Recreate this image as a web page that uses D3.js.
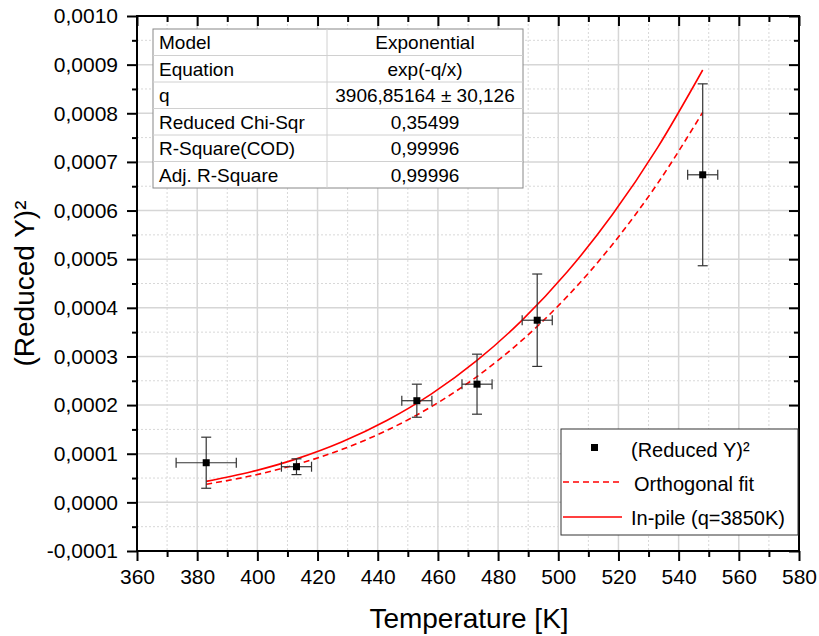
<!DOCTYPE html>
<html lang="en">
  <head>
    <meta charset="UTF-8">
    <title>Reduced Y squared vs temperature</title>
    <style>
      body { margin: 0; background: #fff; }
      svg text { font-family: Arial, "Liberation Sans", sans-serif; fill: #000; }
    </style>
    <script src="https://d3js.org/d3.v7.min.js"></script>
  </head>
  <body>
    <script>
      // measured points
      var temps = [383, 413, 453, 473, 493, 548];
      var reducedY2 = [0.0000815, 0.0000733, 0.000209, 0.000243, 0.0003745, 0.0006735];
      var yErr = [0.0000525, 0.0000162, 0.000034, 0.0000617, 0.000095, 0.000187];
      var xErr = [10, 5, 5, 5, 5, 5];

      // curves
      var curveT = [383, 398, 413, 428, 443, 458, 473, 488, 503, 518, 533, 548];
      var orthoFit = [0.0000372, 0.0000546, 0.0000779, 0.0001086, 0.0001479, 0.0001974,
                      0.0002587, 0.0003335, 0.0004235, 0.0005302, 0.0006556, 0.000802];
      var inPile = [0.0000431, 0.0000629, 0.0000894, 0.000124, 0.0001682, 0.0002235,
                    0.0002918, 0.0003747, 0.0004741, 0.0005917, 0.0007294, 0.000889];

      var xTicks = d3.range(360, 581, 20);
      var yTicks = d3.range(-0.0001, 0.00100001, 0.0001);

      var tableRows = [
        ["Model", "Exponential"],
        ["Equation", "exp(-q/x)"],
        ["q", "3906,85164 \u00b1 30,126"],
        ["Reduced Chi-Sqr", "0,35499"],
        ["R-Square(COD)", "0,99996"],
        ["Adj. R-Square", "0,99996"]
      ];
      var legendLabels = ["(Reduced Y)\u00b2", "Orthogonal fit", "In-pile (q=3850K)"];

      (function () {
        var W = 819, H = 636;
        var pLeft = 137, pRight = 799, pTop = 16, pBottom = 551;

        var x = d3.scaleLinear().domain([360, 580]).range([pLeft, pRight]);
        var y = d3.scaleLinear().domain([-0.0001, 0.0010]).range([pBottom, pTop]);

        var fmtY = function (d) {
          var v = Math.abs(d) < 1e-12 ? 0 : d;
          return (v < 0 ? "-" : "") + Math.abs(v).toFixed(4).replace(".", ",");
        };

        var svg = d3.select("body").append("svg")
          .attr("width", W).attr("height", H);

        var minorX = d3.range(370, 580, 20);
        var minorY = d3.range(-0.00005, 0.00099, 0.0001);

        // grid
        var grid = svg.append("g");
        grid.selectAll(".mx").data(minorX).enter().append("line")
          .attr("x1", function (d) { return x(d); }).attr("x2", function (d) { return x(d); })
          .attr("y1", pTop).attr("y2", pBottom)
          .attr("stroke", "#d8d8d8").attr("stroke-dasharray", "2,2");
        grid.selectAll(".my").data(minorY).enter().append("line")
          .attr("y1", function (d) { return y(d); }).attr("y2", function (d) { return y(d); })
          .attr("x1", pLeft).attr("x2", pRight)
          .attr("stroke", "#d8d8d8").attr("stroke-dasharray", "2,2");
        grid.selectAll(".gx").data(xTicks).enter().append("line")
          .attr("x1", function (d) { return x(d); }).attr("x2", function (d) { return x(d); })
          .attr("y1", pTop).attr("y2", pBottom)
          .attr("stroke", "#d6d6d6").attr("stroke-width", 1.5);
        grid.selectAll(".gy").data(yTicks).enter().append("line")
          .attr("y1", function (d) { return y(d); }).attr("y2", function (d) { return y(d); })
          .attr("x1", pLeft).attr("x2", pRight)
          .attr("stroke", "#d6d6d6").attr("stroke-width", 1.5);

        // axes
        function styleAxis(g) {
          g.select(".domain").remove();
          g.selectAll(".tick line").attr("stroke", "#000").attr("stroke-width", 2);
          g.selectAll("text").style("font-size", "21px");
        }

        svg.append("g").attr("transform", "translate(0," + pBottom + ")")
          .call(d3.axisBottom(x).tickValues(xTicks).tickSize(10).tickPadding(8).tickFormat(d3.format("d")))
          .call(styleAxis);
        svg.append("g").attr("transform", "translate(0," + pBottom + ")")
          .call(d3.axisBottom(x).tickValues(minorX).tickSize(6).tickFormat(""))
          .call(styleAxis);
        svg.append("g").attr("transform", "translate(0," + pTop + ")")
          .call(d3.axisBottom(x).tickValues(xTicks).tickSize(10).tickFormat(""))
          .call(styleAxis);
        svg.append("g").attr("transform", "translate(0," + pTop + ")")
          .call(d3.axisBottom(x).tickValues(minorX).tickSize(6).tickFormat(""))
          .call(styleAxis);

        svg.append("g").attr("transform", "translate(" + pLeft + ",0)")
          .call(d3.axisLeft(y).tickValues(yTicks).tickSize(10).tickPadding(9).tickFormat(fmtY))
          .call(styleAxis);
        svg.append("g").attr("transform", "translate(" + pLeft + ",0)")
          .call(d3.axisLeft(y).tickValues(minorY).tickSize(5).tickFormat(""))
          .call(styleAxis);
        svg.append("g").attr("transform", "translate(" + pRight + ",0)")
          .call(d3.axisLeft(y).tickValues(yTicks).tickSize(10).tickFormat(""))
          .call(styleAxis);
        svg.append("g").attr("transform", "translate(" + pRight + ",0)")
          .call(d3.axisLeft(y).tickValues(minorY).tickSize(5).tickFormat(""))
          .call(styleAxis);

        svg.append("rect").attr("x", pLeft).attr("y", pTop)
          .attr("width", pRight - pLeft).attr("height", pBottom - pTop)
          .attr("fill", "none").attr("stroke", "#000").attr("stroke-width", 2);

        // axis titles
        svg.append("text").attr("x", 469).attr("y", 628)
          .attr("text-anchor", "middle").style("font-size", "28px").text("Temperature [K]");
        svg.append("text")
          .attr("transform", "translate(34," + ((pTop + pBottom) / 2) + ") rotate(-90)")
          .attr("text-anchor", "middle").style("font-size", "28px").text("(Reduced Y)\u00b2");

        // curves
        var line = function (vals) {
          return d3.line()
            .x(function (d, i) { return x(curveT[i]); })
            .y(function (d) { return y(d); })
            .curve(d3.curveMonotoneX)(vals);
        };
        svg.append("path").attr("d", line(inPile))
          .attr("fill", "none").attr("stroke", "#ff0000").attr("stroke-width", 1.6);
        svg.append("path").attr("d", line(orthoFit))
          .attr("fill", "none").attr("stroke", "#ff0000").attr("stroke-width", 1.6)
          .attr("stroke-dasharray", "6,4");

        // error bars and points
        var pts = temps.map(function (t, i) {
          return { t: t, v: reducedY2[i], ey: yErr[i], ex: xErr[i] };
        });
        var eb = svg.append("g").attr("stroke", "#333").attr("stroke-width", 1.2);
        pts.forEach(function (d) {
          var cx = x(d.t), cy = y(d.v);
          var y0 = y(d.v - d.ey), y1 = y(d.v + d.ey);
          var x0 = x(d.t - d.ex), x1 = x(d.t + d.ex);
          eb.append("line").attr("x1", cx).attr("x2", cx).attr("y1", y0).attr("y2", y1);
          eb.append("line").attr("x1", cx - 5).attr("x2", cx + 5).attr("y1", y0).attr("y2", y0);
          eb.append("line").attr("x1", cx - 5).attr("x2", cx + 5).attr("y1", y1).attr("y2", y1);
          eb.append("line").attr("x1", x0).attr("x2", x1).attr("y1", cy).attr("y2", cy);
          eb.append("line").attr("x1", x0).attr("x2", x0).attr("y1", cy - 5).attr("y2", cy + 5);
          eb.append("line").attr("x1", x1).attr("x2", x1).attr("y1", cy - 5).attr("y2", cy + 5);
        });
        svg.selectAll(".pt").data(pts).enter().append("rect")
          .attr("x", function (d) { return x(d.t) - 3.5; })
          .attr("y", function (d) { return y(d.v) - 3.5; })
          .attr("width", 7).attr("height", 7).attr("fill", "#000");

        // fit table
        var tx = 153, ty = 29, tw = 370, rowH = 26.5, colX = 327;
        var tbl = svg.append("g");
        tbl.append("rect").attr("x", tx).attr("y", ty).attr("width", tw).attr("height", rowH * tableRows.length)
          .attr("fill", "#fff").attr("stroke", "#888").attr("stroke-width", 1);
        tableRows.forEach(function (r, i) {
          if (i > 0) {
            tbl.append("line").attr("x1", tx).attr("x2", tx + tw)
              .attr("y1", ty + i * rowH).attr("y2", ty + i * rowH)
              .attr("stroke", "#d0d0d0");
          }
          tbl.append("text").attr("x", tx + 6).attr("y", ty + i * rowH + 20)
            .style("font-size", "19px").text(r[0]);
          tbl.append("text").attr("x", (colX + tx + tw) / 2).attr("y", ty + i * rowH + 20)
            .attr("text-anchor", "middle").style("font-size", "19px").text(r[1]);
        });
        tbl.append("line").attr("x1", colX).attr("x2", colX).attr("y1", ty).attr("y2", ty + rowH * tableRows.length)
          .attr("stroke", "#d0d0d0");

        // legend
        var lg = svg.append("g");
        lg.append("rect").attr("x", 561).attr("y", 429).attr("width", 237).attr("height", 106)
          .attr("fill", "#fff").attr("stroke", "#333").attr("stroke-width", 1);
        lg.append("rect").attr("x", 591).attr("y", 444).attr("width", 7).attr("height", 7).attr("fill", "#000");
        lg.append("line").attr("x1", 563).attr("x2", 622).attr("y1", 482).attr("y2", 482)
          .attr("stroke", "#ff0000").attr("stroke-width", 1.6).attr("stroke-dasharray", "6,4");
        lg.append("line").attr("x1", 563).attr("x2", 622).attr("y1", 517).attr("y2", 517)
          .attr("stroke", "#ff0000").attr("stroke-width", 1.6);
        var lgY = [457, 491, 525];
        var lgX = [631, 634, 631];
        legendLabels.forEach(function (s, i) {
          lg.append("text").attr("x", lgX[i]).attr("y", lgY[i]).style("font-size", "20px").text(s);
        });
      })();
    </script>
  </body>
</html>
